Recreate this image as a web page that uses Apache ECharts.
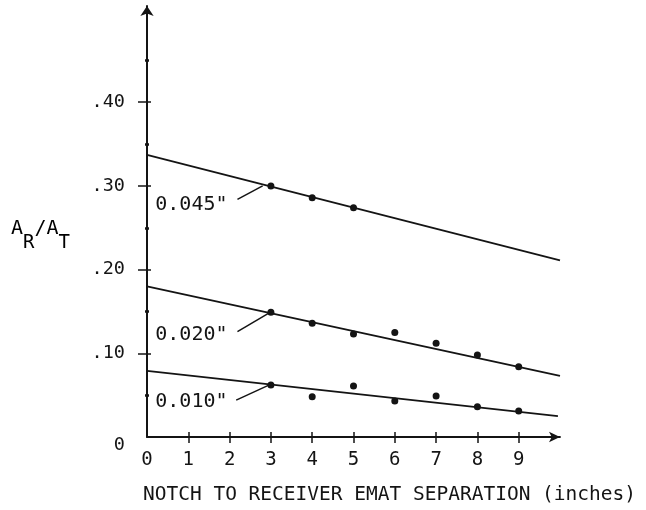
<!DOCTYPE html>
<html>
<head>
<meta charset="utf-8">
<script src="https://cdn.jsdelivr.net/npm/echarts@6/dist/echarts.min.js"></script>
<style>
  html, body { margin: 0; padding: 0; background: #fff; }
  #chart { width: 646px; height: 510px; }
</style>
</head>
<body>
<div id="chart"></div>
<script>
// x tick labels / values
const xTicks = [0, 1, 2, 3, 4, 5, 6, 7, 8, 9];
const yMajor = [0.1, 0.2, 0.3, 0.4];
const yMinor = [0.05, 0.15, 0.25, 0.35, 0.45];
const yLabels = [0, 0.1, 0.2, 0.3, 0.4];

// measured points (x = separation in inches, y = AR/AT)
const pts045 = [[3, 0.300], [4, 0.286], [5, 0.274]];
const pts020 = [[3, 0.149], [4, 0.136], [5, 0.123], [6, 0.125], [7, 0.112], [8, 0.098], [9, 0.084]];
const pts010 = [[3, 0.062], [4, 0.048], [5, 0.061], [6, 0.043], [7, 0.049], [8, 0.036], [9, 0.031]];

// fitted straight lines (end points)
const fit045 = [[0, 0.337], [10, 0.211]];
const fit020 = [[0, 0.180], [10, 0.073]];
const fit010 = [[0, 0.079], [9.95, 0.025]];

// curve names and where their labels / leader lines sit (data coords)
const curveNames = ['0.045"', '0.020"', '0.010"'];
const labelAt = [[0.2, 0.278], [0.2, 0.122], [0.2, 0.042]];
const leaders = [
  [[2.19, 0.284], [2.8, 0.300]],
  [[2.19, 0.126], [2.95, 0.148]],
  [[2.16, 0.044], [2.95, 0.062]]
];

const FONT = 'DejaVu Sans Mono';
const INK = '#141414';

const chart = echarts.init(document.getElementById('chart'));

const lineSeries = (data, i) => ({
  type: 'line',
  data: data,
  symbol: 'none',
  silent: true,
  lineStyle: { color: INK, width: 1.8 },
  markPoint: {
    symbol: 'circle',
    symbolSize: 0,
    data: [{ coord: labelAt[i] }],
    label: {
      show: true,
      position: 'right',
      distance: 0,
      formatter: curveNames[i],
      fontFamily: FONT,
      fontSize: 20,
      color: INK
    }
  },
  markLine: {
    symbol: 'none',
    silent: true,
    label: { show: false },
    lineStyle: { color: INK, width: 1.5, type: 'solid' },
    data: [[{ coord: leaders[i][0] }, { coord: leaders[i][1] }]]
  }
});

const dotSeries = (data) => ({
  type: 'scatter',
  data: data,
  symbol: 'circle',
  symbolSize: 7,
  itemStyle: { color: INK, opacity: 1 },
  silent: true
});

const yBase = { type: 'value', min: 0, max: 0.515, position: 'left' };
const xBase = { type: 'value', min: 0, max: 10, position: 'bottom' };

const option = {
  animation: false,
  backgroundColor: '#fff',
  grid: { left: 147, right: 86, top: 6, bottom: 73 },
  xAxis: [
    Object.assign({}, xBase, {
      axisLine: { show: true, symbol: ['none', 'arrow'], symbolSize: [8, 11], lineStyle: { color: INK, width: 1.8 } },
      axisTick: { show: true, inside: false, length: 6, customValues: xTicks.slice(1), lineStyle: { color: INK, width: 1.5 } },
      axisLabel: { customValues: xTicks, margin: 14, fontFamily: FONT, fontSize: 19, color: INK },
      splitLine: { show: false },
      name: 'NOTCH TO RECEIVER EMAT SEPARATION (inches)',
      nameLocation: 'middle',
      nameGap: 48,
      nameTextStyle: { fontFamily: FONT, fontSize: 19.5, color: INK, padding: [0, 0, 0, 72] }
    }),
    Object.assign({}, xBase, {
      axisLine: { show: false },
      axisTick: { show: true, inside: true, length: 5, customValues: xTicks.slice(1), lineStyle: { color: INK, width: 1.5 } },
      axisLabel: { show: false },
      splitLine: { show: false }
    })
  ],
  yAxis: [
    Object.assign({}, yBase, {
      axisLine: { show: true, symbol: ['none', 'arrow'], symbolSize: [10, 10], lineStyle: { color: INK, width: 2 } },
      axisTick: { show: true, inside: false, length: 9, customValues: yMajor, lineStyle: { color: INK, width: 1.5 } },
      axisLabel: {
        customValues: yLabels,
        margin: 22,
        fontFamily: FONT,
        fontSize: 18.5,
        color: INK,
        formatter: v => (v === 0 ? '{z|0}' : '.' + Math.round(v * 100)),
        rich: { z: { fontFamily: FONT, fontSize: 18.5, color: INK, padding: [16, 0, 0, 0] } }
      },
      splitLine: { show: false }
    }),
    Object.assign({}, yBase, {
      axisLine: { show: false },
      axisTick: { show: true, inside: true, length: 4, customValues: yMajor, lineStyle: { color: INK, width: 1.5 } },
      axisLabel: { show: false },
      splitLine: { show: false }
    }),
    Object.assign({}, yBase, {
      axisLine: { show: false },
      axisTick: { show: true, inside: false, length: 2, customValues: yMinor, lineStyle: { color: INK, width: 2.5 } },
      axisLabel: { show: false },
      splitLine: { show: false }
    }),
    Object.assign({}, yBase, {
      axisLine: { show: false },
      axisTick: { show: true, inside: true, length: 2, customValues: yMinor, lineStyle: { color: INK, width: 2.5 } },
      axisLabel: { show: false },
      splitLine: { show: false }
    })
  ],
  graphic: [{
    type: 'text',
    left: 11,
    top: 219,
    style: {
      text: '{a|A}{s|R}{a|/A}{s|T}',
      rich: {
        a: { fontFamily: FONT, fontSize: 20, color: INK, lineHeight: 20, padding: [0, 0, 14, 0] },
        s: { fontFamily: FONT, fontSize: 19, color: INK, lineHeight: 20, padding: [14, 0, 0, 0] }
      }
    }
  }],
  series: [
    lineSeries(fit045, 0),
    lineSeries(fit020, 1),
    lineSeries(fit010, 2),
    dotSeries(pts045),
    dotSeries(pts020),
    dotSeries(pts010)
  ]
};

chart.setOption(option);
</script>
</body>
</html>
